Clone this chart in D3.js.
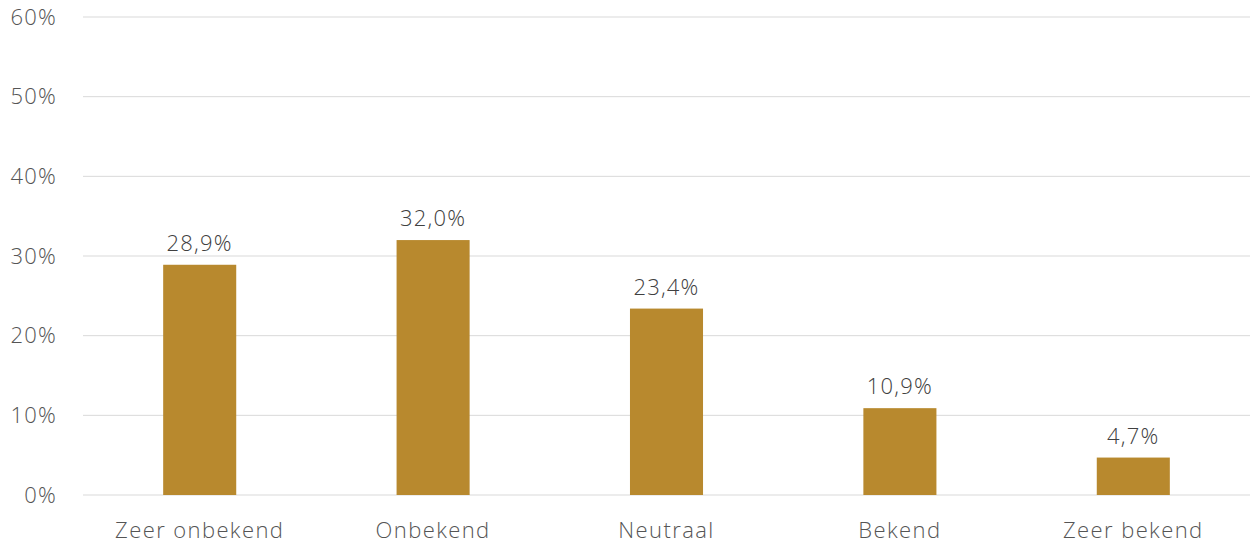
<!DOCTYPE html>
<html>
<head>
<meta charset="utf-8">
<script src="https://cdn.jsdelivr.net/npm/d3@7"></script>
<style>
  body { margin: 0; background: #fff; }
  text { font-family: "Open Sans", sans-serif; font-weight: 300; }
</style>
</head>
<body>
<svg width="1250" height="545"></svg>
<script>
// Data
var categories = ["Zeer onbekend", "Onbekend", "Neutraal", "Bekend", "Zeer bekend"];
var values = [28.9, 32.0, 23.4, 10.9, 4.7];
var yTicks = [0, 10, 20, 30, 40, 50, 60];

var margin = {top: 17, right: 0, bottom: 50, left: 83},
    width = 1250 - margin.left - margin.right,
    height = 545 - margin.top - margin.bottom;

var svg = d3.select("svg")
  .append("g")
    .attr("transform", "translate(" + margin.left + "," + margin.top + ")");

var x = d3.scaleBand()
    .domain(categories)
    .range([0, width])
    .paddingInner(0.687)
    .paddingOuter(0.3435);

var y = d3.scaleLinear()
    .domain([0, 60])
    .range([height, 0]);

// Gridlines
svg.selectAll(".grid")
    .data(yTicks)
  .enter().append("line")
    .attr("x1", 0)
    .attr("x2", width)
    .attr("y1", function(d) { return y(d); })
    .attr("y2", function(d) { return y(d); })
    .attr("stroke", "#d9d9d9")
    .attr("stroke-width", 1);

// Y tick labels
svg.selectAll(".ytick")
    .data(yTicks)
  .enter().append("text")
    .attr("x", -26)
    .attr("y", function(d) { return y(d); })
    .attr("dy", "0.35em")
    .attr("text-anchor", "end")
    .attr("fill", "#555")
    .style("font-size", "22px")
    .style("letter-spacing", "1.2px")
    .text(function(d) { return d + "%"; });

// Bars
svg.selectAll(".bar")
    .data(values)
  .enter().append("rect")
    .attr("x", function(d, i) { return x(categories[i]); })
    .attr("width", x.bandwidth())
    .attr("y", function(d) { return y(d); })
    .attr("height", function(d) { return height - y(d); })
    .attr("fill", "#B8892E");

// Value labels
svg.selectAll(".label")
    .data(values)
  .enter().append("text")
    .attr("x", function(d, i) { return x(categories[i]) + x.bandwidth() / 2; })
    .attr("y", function(d) { return y(d) - 14; })
    .attr("text-anchor", "middle")
    .attr("fill", "#404040")
    .style("font-size", "22px")
    .style("letter-spacing", "1.2px")
    .text(function(d) { return d.toFixed(1).replace(".", ",") + "%"; });

// Category labels
svg.selectAll(".cat")
    .data(categories)
  .enter().append("text")
    .attr("x", function(d) { return x(d) + x.bandwidth() / 2; })
    .attr("y", height + 43)
    .attr("text-anchor", "middle")
    .attr("fill", "#555")
    .style("font-size", "22px")
    .style("letter-spacing", "1.4px")
    .text(function(d) { return d; });
</script>
</body>
</html>
